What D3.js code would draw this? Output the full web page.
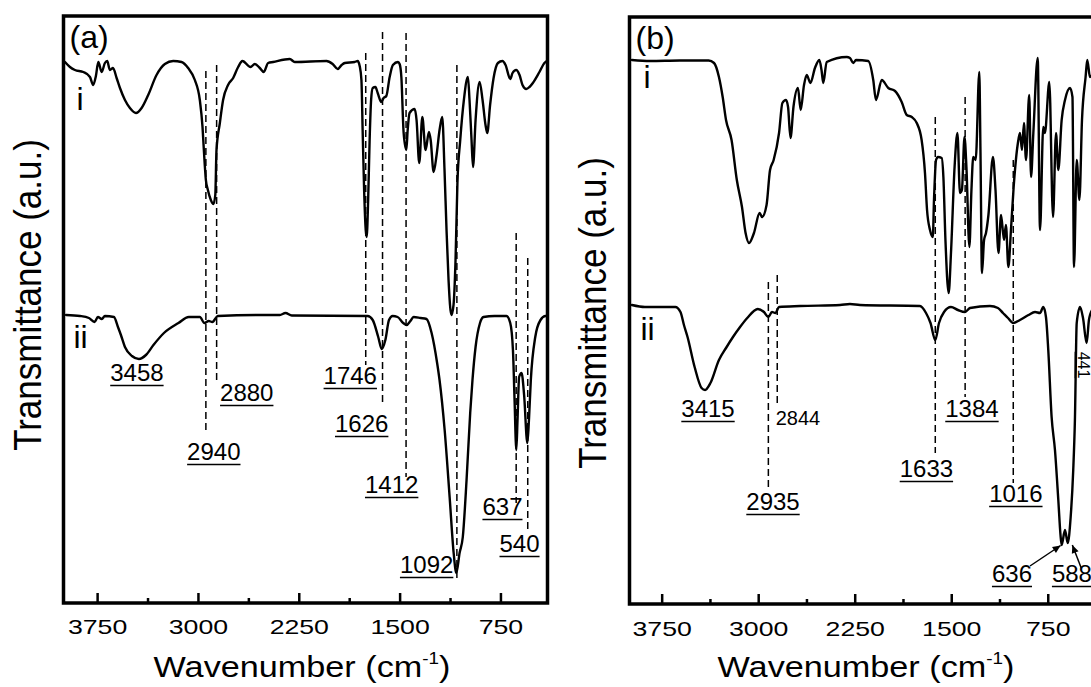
<!DOCTYPE html>
<html>
<head>
<meta charset="utf-8">
<script src="https://cdn.jsdelivr.net/npm/d3@7"></script>
<style>
  html, body { margin: 0; background: #fff; }
  svg { display: block; }
  text { font-family: "Liberation Sans", Arial, Helvetica, sans-serif; fill: #000; }
</style>
</head>
<body>
<div id="chart"></div>
<script>
// Two FTIR panels, (a) and (b). x is wavenumber in cm^-1 (reversed axis),
// y is transmittance in arbitrary units; curve i sits above curve ii.

const X_DOMAIN = [4000, 400];
const Y_DOMAIN = [0, 58.7];
const MAJOR_TICKS = [3750, 3000, 2250, 1500, 750];
const MINOR_TICKS = [3375, 2625, 1875, 1125];

// panel (a), curve i  [wavenumber, a.u.]
const specA_i = [
  [3989,54.1],[3952,53.6],[3915,53.3],[3853,53.1],[3803,52.6],[3779,51.8],[3759,52.7],[3741,54.1],
  [3716,53.1],[3692,54.0],[3675,54.2],[3655,53.3],[3632,53.5],[3605,52.5],[3580,51.5],[3543,50.3],
  [3506,49.5],[3461,49.0],[3419,49.5],[3370,50.8],[3308,52.8],[3246,53.9],[3184,54.2],[3122,54.1],
  [3073,53.5],[3023,52.3],[2986,50.3],[2966,47.6],[2956,45.3],[2941,42.3],[2926,41.3],[2904,40.3],
  [2885,39.9],[2871,40.8],[2862,45.3],[2837,48.0],[2813,50.3],[2776,51.8],[2738,52.5],[2701,53.6],
  [2669,54.2],[2609,53.6],[2577,53.9],[2540,53.5],[2510,53.1],[2478,54.0],[2441,54.1],[2317,54.4],
  [2280,54.1],[2044,54.2],[1998,53.9],[1960,53.4],[1931,53.8],[1908,54.0],[1834,54.1],[1812,54.2],
  [1797,53.7],[1784,52.3],[1775,47.3],[1764,41.3],[1752,37.3],[1745,36.6],[1734,40.3],[1723,46.3],
  [1712,50.3],[1700,51.5],[1680,51.6],[1663,51.0],[1636,50.1],[1619,50.5],[1599,50.7],[1574,52.6],
  [1550,53.8],[1512,54.1],[1500,53.9],[1487,52.6],[1470,47.0],[1450,45.3],[1440,47.3],[1426,49.0],
  [1388,49.4],[1374,48.3],[1354,44.0],[1331,48.6],[1307,45.3],[1282,47.1],[1269,46.3],[1247,43.1],
  [1225,44.8],[1203,47.3],[1183,48.6],[1166,43.3],[1151,37.3],[1136,32.3],[1115,28.8],[1099,29.8],
  [1084,34.3],[1070,42.0],[1049,46.3],[1022,50.3],[992,52.6],[980,50.3],[965,46.3],[954,43.6],
  [935,48.3],[905,52.1],[883,50.3],[861,47.8],[848,47.0],[827,49.8],[801,52.5],[769,54.0],
  [735,54.2],[712,53.8],[677,52.4],[660,53.0],[633,53.3],[608,52.8],[586,51.8],[558,51.4],
  [534,51.6],[509,52.0],[460,53.1],[423,54.0],[405,54.2]
];

// panel (a), curve ii
const specA_ii = [
  [3981,28.8],[3877,28.7],[3811,28.5],[3769,28.1],[3744,28.6],[3715,28.4],[3692,28.7],[3625,28.6],
  [3595,27.6],[3573,26.8],[3543,25.6],[3491,24.7],[3439,24.4],[3387,24.8],[3331,25.8],[3253,27.0],
  [3145,28.0],[3068,28.6],[2986,28.6],[2952,28.0],[2920,28.2],[2893,28.1],[2852,28.7],[2540,28.8],
  [2391,28.8],[2349,29.0],[2302,28.75],[1738,28.7],[1700,28.3],[1659,26.6],[1633,25.4],[1606,26.3],
  [1579,28.3],[1552,28.7],[1515,28.6],[1473,28.0],[1448,27.8],[1420,28.2],[1396,28.6],[1344,28.5],
  [1300,28.4],[1262,27.0],[1221,24.0],[1203,22.3],[1165,17.3],[1128,10.6],[1098,5.0],[1078,3.0],
  [1054,5.0],[1030,6.6],[1002,12.3],[975,19.0],[958,22.3],[935,25.6],[902,28.0],[876,28.6],
  [794,28.7],[705,28.7],[677,28.0],[657,25.3],[645,20.3],[632,15.3],[623,18.3],[611,22.6],
  [593,23.0],[574,20.8],[550,16.0],[538,18.3],[524,22.3],[491,26.6],[452,28.3],[415,28.7],[400,28.7]
];

// panel (b), curve i
const specB_i = [
  [3981,54.4],[3841,54.3],[3608,54.35],[3385,54.35],[3343,54.1],[3305,52.7],[3276,50.7],[3250,48.4],
  [3207,46.4],[3166,42.4],[3126,39.7],[3098,37.1],[3071,36.1],[3033,37.1],[2989,39.1],[2970,38.7],
  [2935,39.9],[2908,43.4],[2880,44.4],[2838,47.1],[2812,50.1],[2784,50.4],[2768,49.7],[2749,46.6],
  [2726,49.7],[2691,51.6],[2670,49.4],[2644,51.9],[2623,52.9],[2594,52.1],[2559,53.6],[2525,54.4],
  [2508,53.4],[2494,52.1],[2468,54.2],[2312,54.7],[2287,54.6],[2261,54.1],[2240,54.4],[2145,54.3],
  [2106,52.4],[2085,50.4],[2040,52.4],[1989,51.6],[1937,51.3],[1885,50.2],[1846,48.9],[1807,48.7],
  [1768,48.1],[1730,46.4],[1704,43.1],[1688,39.4],[1665,37.4],[1643,36.7],[1634,40.4],[1618,44.4],
  [1603,44.7],[1574,44.6],[1561,42.7],[1545,36.4],[1520,31.1],[1502,35.1],[1474,43.7],[1452,47.1],
  [1432,41.1],[1417,41.4],[1397,46.7],[1382,43.7],[1359,35.7],[1343,41.4],[1329,44.7],[1310,44.4],
  [1282,53.2],[1273,45.4],[1261,33.1],[1245,36.4],[1230,37.1],[1211,38.9],[1176,44.7],[1156,41.4],
  [1133,35.1],[1113,38.9],[1090,36.4],[1075,37.9],[1056,33.7],[1036,37.4],[1015,41.7],[982,46.1],
  [966,47.1],[950,45.4],[935,48.1],[919,44.4],[894,50.9],[880,42.7],[862,47.1],[828,54.6],
  [810,37.4],[785,47.7],[772,47.1],[738,52.2],[709,38.7],[686,47.1],[668,43.4],[642,48.4],
  [616,50.4],[577,51.6],[558,50.7],[546,33.7],[525,44.4],[504,40.4],[484,48.4],[456,52.7],
  [443,54.4],[422,52.7],[406,52.9]
];

// panel (b), curve ii
const specB_ii = [
  [3981,29.9],[3880,29.7],[3763,29.7],[3644,29.7],[3604,29.2],[3577,27.9],[3549,26.7],[3494,23.7],
  [3440,21.6],[3413,21.4],[3371,22.1],[3305,24.4],[3250,25.6],[3196,26.7],[3141,27.7],[3085,28.6],
  [3003,29.5],[2955,29.2],[2921,28.7],[2893,29.2],[2866,29.1],[2838,29.7],[2675,29.8],[2364,29.9],
  [2287,30.0],[2209,29.9],[1743,29.8],[1696,29.1],[1661,28.1],[1624,26.4],[1595,28.1],[1556,29.2],
  [1502,29.7],[1448,29.4],[1393,29.2],[1354,29.6],[1199,29.8],[1137,29.6],[1098,29.1],[1059,28.6],
  [1018,28.1],[966,28.4],[900,28.9],[849,29.2],[810,29.1],[785,29.7],[764,28.7],[746,25.4],
  [720,18.7],[694,15.4],[668,10.4],[651,6.9],[642,5.9],[616,7.4],[595,6.1],[572,8.7],
  [552,13.4],[539,18.4],[525,28.1],[499,29.7],[476,28.6],[448,26.1],[430,28.4],[406,29.4]
];

// dashed guide lines: [wavenumber, top a.u., bottom a.u.]
const guidesA = [[2941,53.2,17.0],[2861,53.8,22.0],[1752,55.0,23.8],[1627,57.1,19.8],
                 [1452,57.0,12.6],[1074,53.8,2.1],[633,37.0,10.0],[547,34.5,7.0]];
const guidesB = [[2921,32.2,11.7],[2852,32.9,19.7],[1624,48.7,15.1],[1392,50.7,20.7],[1018,44.4,12.1]];

// peak labels: [text, wavenumber (centre), a.u. (baseline), underlined]
const peaksA = [['3458',3454,22.2,true],['2880',2637,20.2,true],['1746',1867,21.9,true],
                ['1626',1782,17.1,true],['2940',2882,14.3,true],['1412',1559,11.0,true],
                ['637',735,8.8,true],['540',608,5.1,true],['1092',1299,3.0,true]];
const peaksB = [['3415',3390,18.7,true],['2844',2691,17.9,false],['2935',2885,9.4,true],
                ['1633',1693,12.7,true],['1384',1339,18.7,true],['1016',998,10.2,true],
                ['636',1028,2.2,true],['588',562,2.2,true]];
// sideways label squeezed in at the right edge of (b)
const peakB_rotated = ['441', 513, 23.9];

// arrows in (b): [[from wn, a.u.], [to wn, a.u.]]
const arrowsB = [[[888,3.8],[650,5.85]], [[490,3.6],[559,5.9]]];

const W = 1091, H = 687;
const svg = d3.select('#chart').append('svg')
  .attr('width', W).attr('height', H).attr('viewBox', `0 0 ${W} ${H}`);
svg.append('rect').attr('width', W).attr('height', H).attr('fill', '#fff');

svg.append('defs').append('marker')
  .attr('id', 'arrowhead').attr('viewBox', '0 0 10 10')
  .attr('refX', 10).attr('refY', 5)
  .attr('markerWidth', 9).attr('markerHeight', 8).attr('markerUnits', 'userSpaceOnUse')
  .attr('orient', 'auto')
  .append('path').attr('d', 'M0,0.5L10,5L0,9.5Z').attr('fill', '#000');

function drawPanel(p) {
  const x = d3.scaleLinear().domain(X_DOMAIN).range([p.left, p.right]);
  const y = d3.scaleLinear().domain(Y_DOMAIN).range([p.bottom, p.top]);
  const g = svg.append('g');

  // dashed guides first, spectra on top
  p.guides.forEach(([wn, v0, v1]) => {
    g.append('line').attr('x1', x(wn)).attr('x2', x(wn)).attr('y1', y(v0)).attr('y2', y(v1))
      .attr('stroke', '#000').attr('stroke-width', 1.5).attr('stroke-dasharray', '7 4');
  });

  const line = d3.line().x((d) => x(d[0])).y((d) => y(d[1])).curve(d3.curveMonotoneX);
  p.series.forEach((s) => {
    g.append('path').datum(s).attr('d', line)
      .attr('fill', 'none').attr('stroke', '#000').attr('stroke-width', 2.4)
      .attr('stroke-linejoin', 'round').attr('stroke-linecap', 'round');
  });

  // bottom axis: inward ticks, labels stretched sideways like the source image
  const axis = g.append('g').attr('transform', `translate(0,${p.bottom})`);
  axis.call(d3.axisBottom(x).tickValues(MAJOR_TICKS).tickSize(-10).tickSizeOuter(0).tickFormat(d3.format('d')))
    .call((sel) => {
      sel.select('.domain').remove();
      sel.selectAll('line').attr('stroke', '#000').attr('stroke-width', 2.5);
      sel.selectAll('text').attr('y', p.tickY - p.bottom).attr('dy', 0)
        .attr('font-size', 21).attr('font-family', null).attr('fill', '#000')
        .attr('transform', 'scale(1.27,1)');
    });
  const minor = g.append('g').attr('transform', `translate(0,${p.bottom})`);
  minor.call(d3.axisBottom(x).tickValues(MINOR_TICKS).tickSize(-5).tickSizeOuter(0).tickFormat(''))
    .call((sel) => {
      sel.select('.domain').remove();
      sel.selectAll('line').attr('stroke', '#000').attr('stroke-width', 2.5);
    });

  // frame
  g.append('rect').attr('x', p.left).attr('y', p.top)
    .attr('width', p.right - p.left).attr('height', p.bottom - p.top)
    .attr('fill', 'none').attr('stroke', '#000').attr('stroke-width', 3.5);

  // peak labels with underlines
  p.peaks.forEach(([t, wn, v, under]) => {
    const fs = under ? 24 : 20;
    const tx = g.append('text').attr('x', x(wn)).attr('y', y(v))
      .attr('text-anchor', 'middle').attr('font-size', fs).text(t);
    if (under) {
      const w = tx.node().getComputedTextLength();
      g.append('line').attr('x1', x(wn) - w / 2).attr('x2', x(wn) + w / 2)
        .attr('y1', y(v) + 4.5).attr('y2', y(v) + 4.5)
        .attr('stroke', '#000').attr('stroke-width', 1.6);
    }
  });

  if (p.rotated) {
    const [t, wn, v] = p.rotated;
    const rg = g.append('g').attr('transform', `translate(${x(wn)},${y(v)}) rotate(90)`);
    const tx = rg.append('text').attr('text-anchor', 'middle').attr('font-size', 16).text(t);
    const w = tx.node().getComputedTextLength();
    rg.append('line').attr('x1', -w / 2).attr('x2', w / 2).attr('y1', 3).attr('y2', 3)
      .attr('stroke', '#000').attr('stroke-width', 1.3);
  }

  (p.arrows || []).forEach(([a, b]) => {
    g.append('line').attr('x1', x(a[0])).attr('y1', y(a[1])).attr('x2', x(b[0])).attr('y2', y(b[1]))
      .attr('stroke', '#000').attr('stroke-width', 1.5).attr('marker-end', 'url(#arrowhead)');
  });

  // panel letter and curve tags
  g.append('text').attr('x', p.left + 6).attr('y', p.top + 32).attr('font-size', 32).text(p.letter);
  g.append('text').attr('x', p.left + p.tagDx).attr('y', p.tagI).attr('font-size', 32).text('i');
  g.append('text').attr('x', p.left + p.tagDx - 3).attr('y', p.tagII).attr('font-size', 32).text('ii');

  // axis titles
  const xl = g.append('text').attr('text-anchor', 'middle').attr('font-size', 29)
    .attr('transform', `translate(${p.xlabX},677) scale(1.18,1)`);
  xl.append('tspan').text('Wavenumber (cm');
  xl.append('tspan').attr('font-size', 16).attr('dy', -13).text('-1');
  xl.append('tspan').attr('dy', 13).text(')');

  g.append('text').attr('text-anchor', 'middle').attr('font-size', 35)
    .attr('transform', `translate(${p.ylabX},${p.ylabY}) rotate(-90) scale(1,1.12)`)
    .text('Transmittance (a.u.)');
}

drawPanel({
  left: 63.5, right: 547.5, top: 16, bottom: 603, tickY: 634,
  series: [specA_i, specA_ii], guides: guidesA, peaks: peaksA,
  letter: '(a)', tagDx: 13, tagI: 110, tagII: 348,
  xlabX: 302, ylabX: 41, ylabY: 295
});

drawPanel({
  left: 629.5, right: 1092.8, top: 17, bottom: 604, tickY: 636,
  series: [specB_i, specB_ii], guides: guidesB, peaks: peaksB,
  rotated: peakB_rotated, arrows: arrowsB,
  letter: '(b)', tagDx: 14, tagI: 88, tagII: 340,
  xlabX: 866, ylabX: 606, ylabY: 313
});
</script>
</body>
</html>
